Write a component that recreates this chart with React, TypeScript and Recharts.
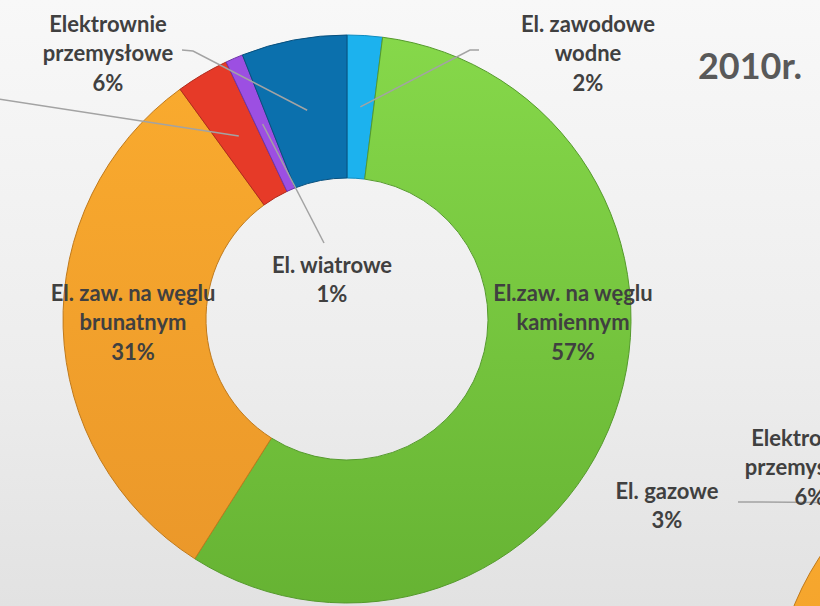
import React from "react";
import { PieChart, Pie, Cell, Customized } from "recharts";

// categories in drawing order (clockwise from 12 o'clock)
const categories = [
  "El. zawodowe wodne",
  "El.zaw. na węglu kamiennym",
  "El. zaw. na węglu brunatnym",
  "El. gazowe",
  "El. wiatrowe",
  "Elektrownie przemysłowe",
];

// how each category name is broken into label lines
const nameLines = [
  ["El. zawodowe", "wodne"],
  ["El.zaw. na węglu", "kamiennym"],
  ["El. zaw. na węglu", "brunatnym"],
  ["El. gazowe"],
  ["El. wiatrowe"],
  ["Elektrownie", "przemysłowe"],
];

// share of production, %, year 2010
const shares2010 = [2, 57, 31, 3, 1, 6];

// second chart, only partly visible at the bottom right edge
const sharesNext = [2, 57, 31, 3, 1, 6];

const colors = ["#1cb2ee", "url(#gGreen)", "url(#gOrange)", "#e63a28", "#9c4fe2", "#0b70ad"];
const strokes = ["#0f8cc0", "#559a2c", "#c07a1c", "#b02a1c", "#6e36a8", "#08507e"];

const data2010 = categories.map((name, i) => ({ name, value: shares2010[i] }));
const dataNext = categories.map((name, i) => ({ name, value: sharesNext[i] }));

type LabelCfg = { x: number; y: number; leader: [number, number][] } | null;

// label placement (text centre x, first line y) and leader start points
const labels2010: LabelCfg[] = [
  { x: 588, y: 23, leader: [[479, 50], [470, 50]] },
  { x: 573, y: 292, leader: [] },
  { x: 133, y: 292, leader: [] },
  { x: -80, y: 90, leader: [[-2, 99]] },
  { x: 332, y: 264, leader: [[324, 243]] },
  { x: 108, y: 23, leader: [[182, 50], [193, 51]] },
];

const labelsNext: LabelCfg[] = [
  null,
  null,
  null,
  { x: 667, y: 490, leader: [] },
  null,
  { x: 810, y: 437, leader: [[738, 502], [752, 502]] },
];

const RADIAN = Math.PI / 180;
const LINE_H = 29.5;

const makeLabel = (cfgs: LabelCfg[]) => (props: any) => {
  const { cx, cy, midAngle, innerRadius, outerRadius, index, value } = props;
  const cfg = cfgs[index];
  if (!cfg) return null;
  const r = (innerRadius + outerRadius) / 2;
  const px = cx + r * Math.cos(-midAngle * RADIAN);
  const py = cy + r * Math.sin(-midAngle * RADIAN);
  const lines = [...nameLines[index], `${value}%`];
  const pts = cfg.leader.length ? [...cfg.leader, [px, py]] : [];
  return (
    <g key={`lbl-${index}`}>
      {pts.length > 0 && (
        <polyline
          points={pts.map((p) => p.join(",")).join(" ")}
          fill="none"
          stroke="#a3a3a3"
          strokeWidth={1.5}
        />
      )}
      {lines.map((t, i) => (
        <text
          key={i}
          x={cfg.x}
          y={cfg.y + i * LINE_H}
          textAnchor="middle"
          dominantBaseline="central"
          fill="#404040"
          fontSize={22}
          fontWeight={700}
          fontFamily="Lato, 'Open Sans', sans-serif"
        >
          {t}
        </text>
      ))}
    </g>
  );
};

const Title = () => (
  <text
    x={750}
    y={65}
    textAnchor="middle"
    dominantBaseline="central"
    fill="#595959"
    fontSize={36}
    fontWeight={700}
    fontFamily="Lato, 'Open Sans', sans-serif"
  >
    2010r.
  </text>
);

export default function App() {
  return (
    <div
      style={{
        position: "absolute",
        left: 0,
        top: 0,
        width: 820,
        height: 606,
        background: "linear-gradient(180deg, #f8f8f8 0%, #ededed 60%, #e2e2e2 100%)",
        overflow: "hidden",
      }}
    >
      <PieChart width={820} height={606} margin={{ top: 0, right: 0, bottom: 0, left: 0 }}>
        <defs>
          <linearGradient id="gGreen" x1="0" y1="0" x2="0" y2="1">
            <stop offset="0%" stopColor="#86d84a" />
            <stop offset="100%" stopColor="#66b333" />
          </linearGradient>
          <linearGradient id="gOrange" x1="0" y1="0" x2="0" y2="1">
            <stop offset="0%" stopColor="#f9aa2e" />
            <stop offset="100%" stopColor="#eb982a" />
          </linearGradient>
        </defs>
        <Pie
          data={dataNext}
          dataKey="value"
          nameKey="name"
          cx={1057}
          cy={713}
          innerRadius={141}
          outerRadius={284}
          startAngle={90}
          endAngle={-270}
          label={makeLabel(labelsNext)}
          labelLine={false}
          isAnimationActive={false}
        >
          {dataNext.map((entry, i) => (
            <Cell key={`n-${entry.name}`} fill={colors[i]} stroke={strokes[i]} strokeWidth={1} />
          ))}
        </Pie>
        <Pie
          data={data2010}
          dataKey="value"
          nameKey="name"
          cx={347}
          cy={319}
          innerRadius={141}
          outerRadius={284}
          startAngle={90}
          endAngle={-270}
          label={makeLabel(labels2010)}
          labelLine={false}
          isAnimationActive={false}
        >
          {data2010.map((entry, i) => (
            <Cell key={`m-${entry.name}`} fill={colors[i]} stroke={strokes[i]} strokeWidth={1} />
          ))}
        </Pie>
        <Customized component={Title} />
      </PieChart>
    </div>
  );
}
